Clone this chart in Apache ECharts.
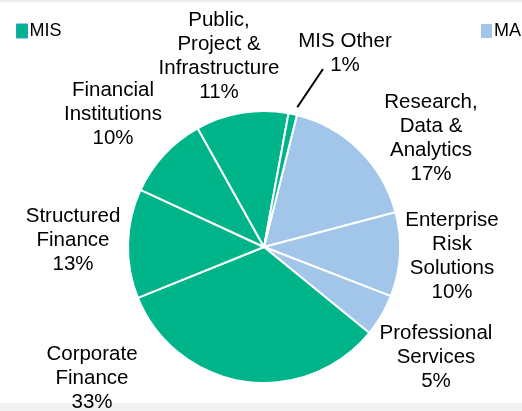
<!DOCTYPE html>
<html>
<head>
<meta charset="utf-8">
<script src="https://cdn.jsdelivr.net/npm/echarts@6/dist/echarts.min.js"></script>
<style>
  html, body { margin: 0; padding: 0; background: #fff; }
  #chart-pie { width: 522px; height: 411px; }
</style>
</head>
<body>
<div id="chart-pie"></div>
<script>
// segment shares, clockwise from the top
var segments = ['Research,\nData &\nAnalytics', 'Enterprise\nRisk\nSolutions', 'Professional\nServices',
  'Corporate\nFinance', 'Structured\nFinance', 'Financial\nInstitutions',
  'Public,\nProject &\nInfrastructure', 'MIS Other'];
var shares = [17, 10, 5, 33, 13, 10, 11, 1];
var groupOf = ['MA', 'MA', 'MA', 'MIS', 'MIS', 'MIS', 'MIS', 'MIS'];
var groups = ['MIS', 'MA'];

var groupColor = { MIS: '#00B48A', MA: '#A2C6EA' };
// label centres (layout only)
var labelPos = [[431, 138], [452, 256], [436, 357], [92, 378], [73, 240], [113, 114], [219, 56], [345, 53]];

var chart = echarts.init(document.getElementById('chart-pie'));

var groupTotals = groups.map(function (g) {
  var s = 0;
  shares.forEach(function (v, i) { if (groupOf[i] === g) s += v; });
  return { name: g, value: s, itemStyle: { color: groupColor[g] } };
});

var pieData = shares.map(function (v, i) {
  var item = { name: segments[i], value: v, itemStyle: { color: groupColor[groupOf[i]] } };
  if (segments[i] === 'MIS Other') item.labelLine = { show: true };
  return item;
});

chart.setOption({
  backgroundColor: '#fff',
  animation: false,
  graphic: [
    { type: 'rect', left: 0, top: 0, z: -1, shape: { width: 522, height: 2 }, style: { fill: '#eeeeee' } },
    { type: 'rect', left: 0, bottom: 0, z: -1, shape: { width: 522, height: 8 }, style: { fill: '#f2f2f2' } }
  ],
  legend: [
    {
      data: [{ name: 'MIS', itemStyle: { borderColor: '#2a9fd8', borderWidth: 1 } }],
      left: 11, top: 17,
      icon: 'rect', itemWidth: 11, itemHeight: 14, itemGap: 4,
      selectedMode: false,
      textStyle: { color: '#000', fontSize: 18, fontFamily: 'Liberation Sans, Arial', padding: [0, 0, 0, -3] }
    },
    {
      data: ['MA'],
      left: 476, top: 17,
      icon: 'rect', itemWidth: 11, itemHeight: 14,
      selectedMode: false,
      textStyle: { color: '#000', fontSize: 18, fontFamily: 'Liberation Sans, Arial', padding: [0, 0, 0, -3] }
    }
  ],
  series: [
    {
      name: 'groups',
      type: 'pie',
      radius: [0, 0],
      center: [264, 247],
      silent: true,
      label: { show: false },
      labelLine: { show: false },
      data: groupTotals
    },
    {
      name: 'segments',
      type: 'pie',
      center: [264, 247],
      radius: 136,
      startAngle: 76,
      clockwise: true,
      avoidLabelOverlap: false,
      itemStyle: { borderColor: '#fff', borderWidth: 2 },
      label: {
        show: true,
        position: 'outside',
        formatter: '{b}\n{c}%',
        color: '#000',
        fontSize: 20.5,
        lineHeight: 24,
        fontFamily: 'Liberation Sans, Arial',
        align: 'center'
      },
      labelLine: { show: false, lineStyle: { color: '#000', width: 2 }, length: 10, length2: 0 },
      labelLayout: function (params) {
        var p = labelPos[params.dataIndex];
        var out = { x: p[0], y: p[1], align: 'center', verticalAlign: 'middle' };
        if (segments[params.dataIndex] === 'MIS Other' && params.labelLinePoints) {
          var p0 = params.labelLinePoints[0];
          var end = [p[0] - 22, p[1] + 16];
          var start = [p0[0] + (end[0] - p0[0]) * 0.15, p0[1] + (end[1] - p0[1]) * 0.15];
          out.labelLinePoints = [start, end];
        }
        return out;
      },
      data: pieData
    }
  ]
});
</script>
</body>
</html>
